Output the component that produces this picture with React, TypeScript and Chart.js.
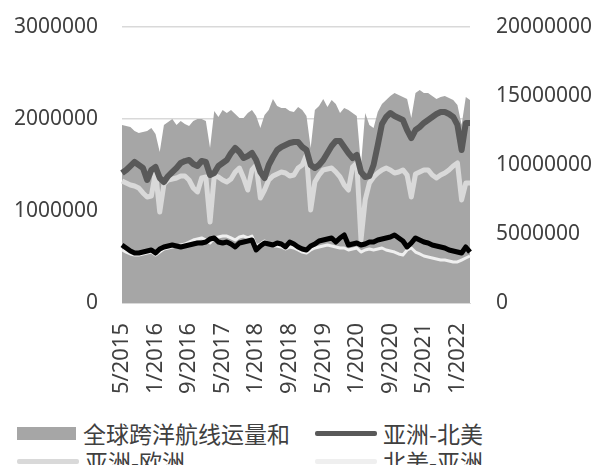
import React, { useEffect, useRef } from "react";
import { Chart, registerables } from "chart.js";

Chart.register(...registerables);

const months: string[] = [
  "5/2015", "6/2015", "7/2015", "8/2015", "9/2015", "10/2015", "11/2015", "12/2015",
  "1/2016", "2/2016", "3/2016", "4/2016", "5/2016", "6/2016", "7/2016", "8/2016", "9/2016", "10/2016", "11/2016", "12/2016",
  "1/2017", "2/2017", "3/2017", "4/2017", "5/2017", "6/2017", "7/2017", "8/2017", "9/2017", "10/2017", "11/2017", "12/2017",
  "1/2018", "2/2018", "3/2018", "4/2018", "5/2018", "6/2018", "7/2018", "8/2018", "9/2018", "10/2018", "11/2018", "12/2018",
  "1/2019", "2/2019", "3/2019", "4/2019", "5/2019", "6/2019", "7/2019", "8/2019", "9/2019", "10/2019", "11/2019", "12/2019",
  "1/2020", "2/2020", "3/2020", "4/2020", "5/2020", "6/2020", "7/2020", "8/2020", "9/2020", "10/2020", "11/2020", "12/2020",
  "1/2021", "2/2021", "3/2021", "4/2021", "5/2021", "6/2021", "7/2021", "8/2021", "9/2021", "10/2021", "11/2021", "12/2021",
  "1/2022", "2/2022", "3/2022", "4/2022",
];

const shownTicks: string[] = [
  "5/2015", "1/2016", "9/2016", "5/2017", "1/2018", "9/2018", "5/2019", "1/2020", "9/2020", "5/2021", "1/2022",
];

const leftTicks: number[] = [0, 1000000, 2000000, 3000000];
const rightTicks: number[] = [0, 5000000, 10000000, 15000000, 20000000];

// 全球跨洋航线运量和 (right axis)
const totalVolume: number[] = [
  12900000, 12830000, 12750000, 12460000, 12320000, 12390000, 12460000, 12680000, 12250000, 10940000,
  12900000, 13120000, 13330000, 12900000, 13190000, 12970000, 12830000, 13190000, 13330000, 13330000,
  13190000, 11230000, 13910000, 13480000, 13990000, 13770000, 13990000, 13700000, 13410000, 13410000,
  13770000, 13990000, 13550000, 12680000, 13620000, 13990000, 14780000, 14280000, 14130000, 14130000,
  13910000, 13840000, 14200000, 13990000, 13550000, 11230000, 13990000, 14280000, 14780000, 14200000,
  14710000, 14420000, 13770000, 14130000, 13990000, 13770000, 13550000, 10000000, 13770000, 12900000,
  12680000, 13840000, 14420000, 14710000, 15000000, 15220000, 15070000, 14930000, 14780000, 13410000,
  15220000, 15430000, 15220000, 15220000, 15000000, 14780000, 14930000, 15000000, 14860000, 14710000,
  14350000, 12900000, 14930000, 14710000,
];

// 亚洲-北美
const asiaToNA: number[] = [
  1413000, 1446000, 1489000, 1533000, 1500000, 1467000, 1337000, 1446000, 1478000, 1359000,
  1315000, 1380000, 1424000, 1467000, 1522000, 1543000, 1554000, 1511000, 1489000, 1543000,
  1533000, 1391000, 1413000, 1489000, 1522000, 1554000, 1630000, 1685000, 1641000, 1576000,
  1598000, 1630000, 1554000, 1424000, 1359000, 1500000, 1587000, 1663000, 1696000, 1717000,
  1739000, 1750000, 1750000, 1696000, 1663000, 1500000, 1467000, 1500000, 1554000, 1630000,
  1707000, 1761000, 1761000, 1696000, 1630000, 1576000, 1609000, 1424000, 1370000, 1380000,
  1500000, 1717000, 1946000, 2022000, 2065000, 2033000, 2011000, 1989000, 1880000, 1793000,
  1880000, 1913000, 1957000, 1989000, 2022000, 2054000, 2076000, 2076000, 2054000, 2022000,
  1935000, 1663000, 1957000, 1957000,
];

// 亚洲-欧洲
const asiaToEU: number[] = [
  1326000, 1304000, 1283000, 1272000, 1250000, 1196000, 1152000, 1163000, 1424000, 989000,
  1293000, 1337000, 1348000, 1359000, 1380000, 1380000, 1337000, 1250000, 1207000, 1359000,
  1370000, 880000, 1380000, 1370000, 1337000, 1315000, 1348000, 1424000, 1467000, 1359000,
  1228000, 1446000, 1500000, 1141000, 1228000, 1337000, 1380000, 1402000, 1424000, 1413000,
  1380000, 1391000, 1467000, 1500000, 1609000, 1011000, 1315000, 1391000, 1446000, 1457000,
  1467000, 1424000, 1370000, 1283000, 1228000, 1478000, 1522000, 685000, 1120000, 1304000,
  1370000, 1413000, 1446000, 1467000, 1446000, 1413000, 1424000, 1446000, 1391000, 1152000,
  1402000, 1424000, 1446000, 1446000, 1391000, 1359000, 1391000, 1413000, 1446000, 1489000,
  1522000, 1120000, 1304000, 1304000,
];

// 北美-亚洲
const naToAsia: number[] = [
  576000, 554000, 533000, 522000, 522000, 533000, 543000, 554000, 522000, 554000,
  587000, 598000, 609000, 620000, 630000, 641000, 663000, 685000, 696000, 707000,
  685000, 652000, 707000, 717000, 728000, 728000, 707000, 685000, 717000, 728000,
  707000, 728000, 620000, 641000, 674000, 641000, 620000, 620000, 609000, 587000,
  609000, 598000, 576000, 554000, 543000, 576000, 598000, 609000, 620000, 630000,
  620000, 609000, 598000, 598000, 576000, 587000, 598000, 554000, 576000, 587000,
  576000, 587000, 598000, 576000, 565000, 554000, 533000, 522000, 576000, 598000,
  554000, 533000, 511000, 500000, 489000, 478000, 467000, 467000, 457000, 446000,
  446000, 467000, 489000, 511000,
];

// 欧洲-亚洲
const euToAsia: number[] = [
  630000, 598000, 565000, 543000, 543000, 554000, 565000, 576000, 543000, 587000,
  609000, 620000, 630000, 620000, 609000, 620000, 630000, 641000, 652000, 652000,
  663000, 696000, 707000, 663000, 652000, 663000, 641000, 609000, 652000, 663000,
  674000, 685000, 576000, 620000, 652000, 641000, 630000, 652000, 641000, 609000,
  663000, 641000, 609000, 587000, 576000, 620000, 641000, 674000, 685000, 696000,
  707000, 663000, 707000, 739000, 630000, 641000, 652000, 630000, 641000, 663000,
  663000, 685000, 696000, 707000, 717000, 739000, 707000, 674000, 609000, 652000,
  707000, 685000, 663000, 652000, 630000, 620000, 609000, 598000, 576000, 565000,
  554000, 543000, 609000, 554000,
];

const tickFont = { family: "'Noto Sans', 'DejaVu Sans', sans-serif", size: 21 };
const xTickFont = { family: "'Noto Sans', 'DejaVu Sans', sans-serif", size: 22 };
const tickColor = "#404040";

type LegendItem = { label: string; kind: "box" | "line"; color: string; col: number; row: number };
const legendItems: LegendItem[] = [
  { label: "全球跨洋航线运量和", kind: "box", color: "#a6a6a6", col: 0, row: 0 },
  { label: "亚洲-北美", kind: "line", color: "#595959", col: 1, row: 0 },
  { label: "亚洲-欧洲", kind: "line", color: "#d9d9d9", col: 0, row: 1 },
  { label: "北美-亚洲", kind: "line", color: "#efefef", col: 1, row: 1 },
  { label: "欧洲-亚洲", kind: "line", color: "#000000", col: 0, row: 2 },
];

export default function App() {
  const ref = useRef<HTMLCanvasElement>(null);

  useEffect(() => {
    document.body.style.margin = "0";
    document.body.style.overflow = "hidden";
    document.body.style.background = "#ffffff";
    const canvas = ref.current;
    if (!canvas) return;
    const chart = new Chart(canvas, {
      type: "line",
      data: {
        labels: months,
        datasets: [
          {
            label: "全球跨洋航线运量和",
            data: totalVolume,
            yAxisID: "y1",
            fill: "origin",
            backgroundColor: "#a6a6a6",
            borderColor: "#a6a6a6",
            borderWidth: 0,
            pointRadius: 0,
            tension: 0,
            order: 10,
          },
          {
            label: "亚洲-北美",
            data: asiaToNA,
            yAxisID: "y",
            fill: false,
            borderColor: "#595959",
            borderWidth: 6,
            pointRadius: 0,
            tension: 0,
            borderJoinStyle: "round",
            order: 3,
          },
          {
            label: "亚洲-欧洲",
            data: asiaToEU,
            yAxisID: "y",
            fill: false,
            borderColor: "#d9d9d9",
            borderWidth: 5,
            pointRadius: 0,
            tension: 0,
            borderJoinStyle: "round",
            order: 4,
          },
          {
            label: "北美-亚洲",
            data: naToAsia,
            yAxisID: "y",
            fill: false,
            borderColor: "#efefef",
            borderWidth: 3,
            pointRadius: 0,
            tension: 0,
            borderJoinStyle: "round",
            order: 2,
          },
          {
            label: "欧洲-亚洲",
            data: euToAsia,
            yAxisID: "y",
            fill: false,
            borderColor: "#000000",
            borderWidth: 5,
            pointRadius: 0,
            tension: 0,
            borderJoinStyle: "round",
            order: 1,
          },
        ],
      },
      options: {
        animation: false,
        responsive: false,
        maintainAspectRatio: false,
        layout: { padding: { top: 27, left: 0, right: 0, bottom: 0 } },
        plugins: { legend: { display: false }, tooltip: { enabled: false } },
        scales: {
          x: {
            grid: { display: false, drawTicks: false },
            border: { display: true, color: "#d9d9d9" },
            ticks: {
              autoSkip: false,
              minRotation: 90,
              maxRotation: 90,
              padding: 20,
              font: xTickFont,
              color: tickColor,
              callback: (_v: any, i: number) => (shownTicks.includes(months[i]) ? months[i] : null),
            },
            afterFit: (s: any) => {
              s.height = 112;
            },
          },
          y: {
            position: "left",
            min: leftTicks[0],
            max: leftTicks[leftTicks.length - 1],
            afterBuildTicks: (s: any) => {
              s.ticks = leftTicks.map((v) => ({ value: v }));
            },
            ticks: {
              padding: 0,
              font: tickFont,
              color: tickColor,
              callback: (v: any) => String(v),
            },
            grid: { color: "#d9d9d9", lineWidth: 1.5, drawTicks: true, tickLength: 24, tickColor: "rgba(0,0,0,0)" },
            border: { display: false },
            afterFit: (s: any) => {
              s.width = 122;
            },
          },
          y1: {
            position: "right",
            min: rightTicks[0],
            max: rightTicks[rightTicks.length - 1],
            afterBuildTicks: (s: any) => {
              s.ticks = rightTicks.map((v) => ({ value: v }));
            },
            ticks: {
              padding: 0,
              font: tickFont,
              color: tickColor,
              callback: (v: any) => String(v),
            },
            grid: { display: false, drawTicks: true, tickLength: 26, tickColor: "rgba(0,0,0,0)" },
            border: { display: false },
            afterFit: (s: any) => {
              s.width = 130;
            },
          },
        },
      },
    });
    return () => chart.destroy();
  }, []);

  const colX = [17, 315];
  const rowY = [433, 461, 489];

  return (
    <div style={{ position: "relative", width: 600, height: 465, overflow: "hidden", background: "#fff" }}>
      <canvas ref={ref} width={600} height={415} style={{ position: "absolute", left: 0, top: 0, width: 600, height: 415 }} />
      {legendItems.map((it) => {
        const x = colX[it.col];
        const cy = rowY[it.row];
        return (
          <React.Fragment key={it.label}>
            {it.kind === "box" ? (
              <div style={{ position: "absolute", left: x, top: cy - 6, width: 59, height: 13, background: it.color }} />
            ) : (
              <div style={{ position: "absolute", left: x, top: cy - 2, width: 62, height: 5, background: it.color, borderRadius: 2 }} />
            )}
            <div
              style={{
                position: "absolute",
                left: x + (it.kind === "box" ? 66 : 68),
                top: cy - 16,
                height: 32,
                lineHeight: "32px",
                fontSize: 23,
                color: "#404040",
                whiteSpace: "nowrap",
                fontFamily: "'Noto Sans CJK SC', 'Noto Sans', sans-serif",
              }}
            >
              {it.label}
            </div>
          </React.Fragment>
        );
      })}
    </div>
  );
}
